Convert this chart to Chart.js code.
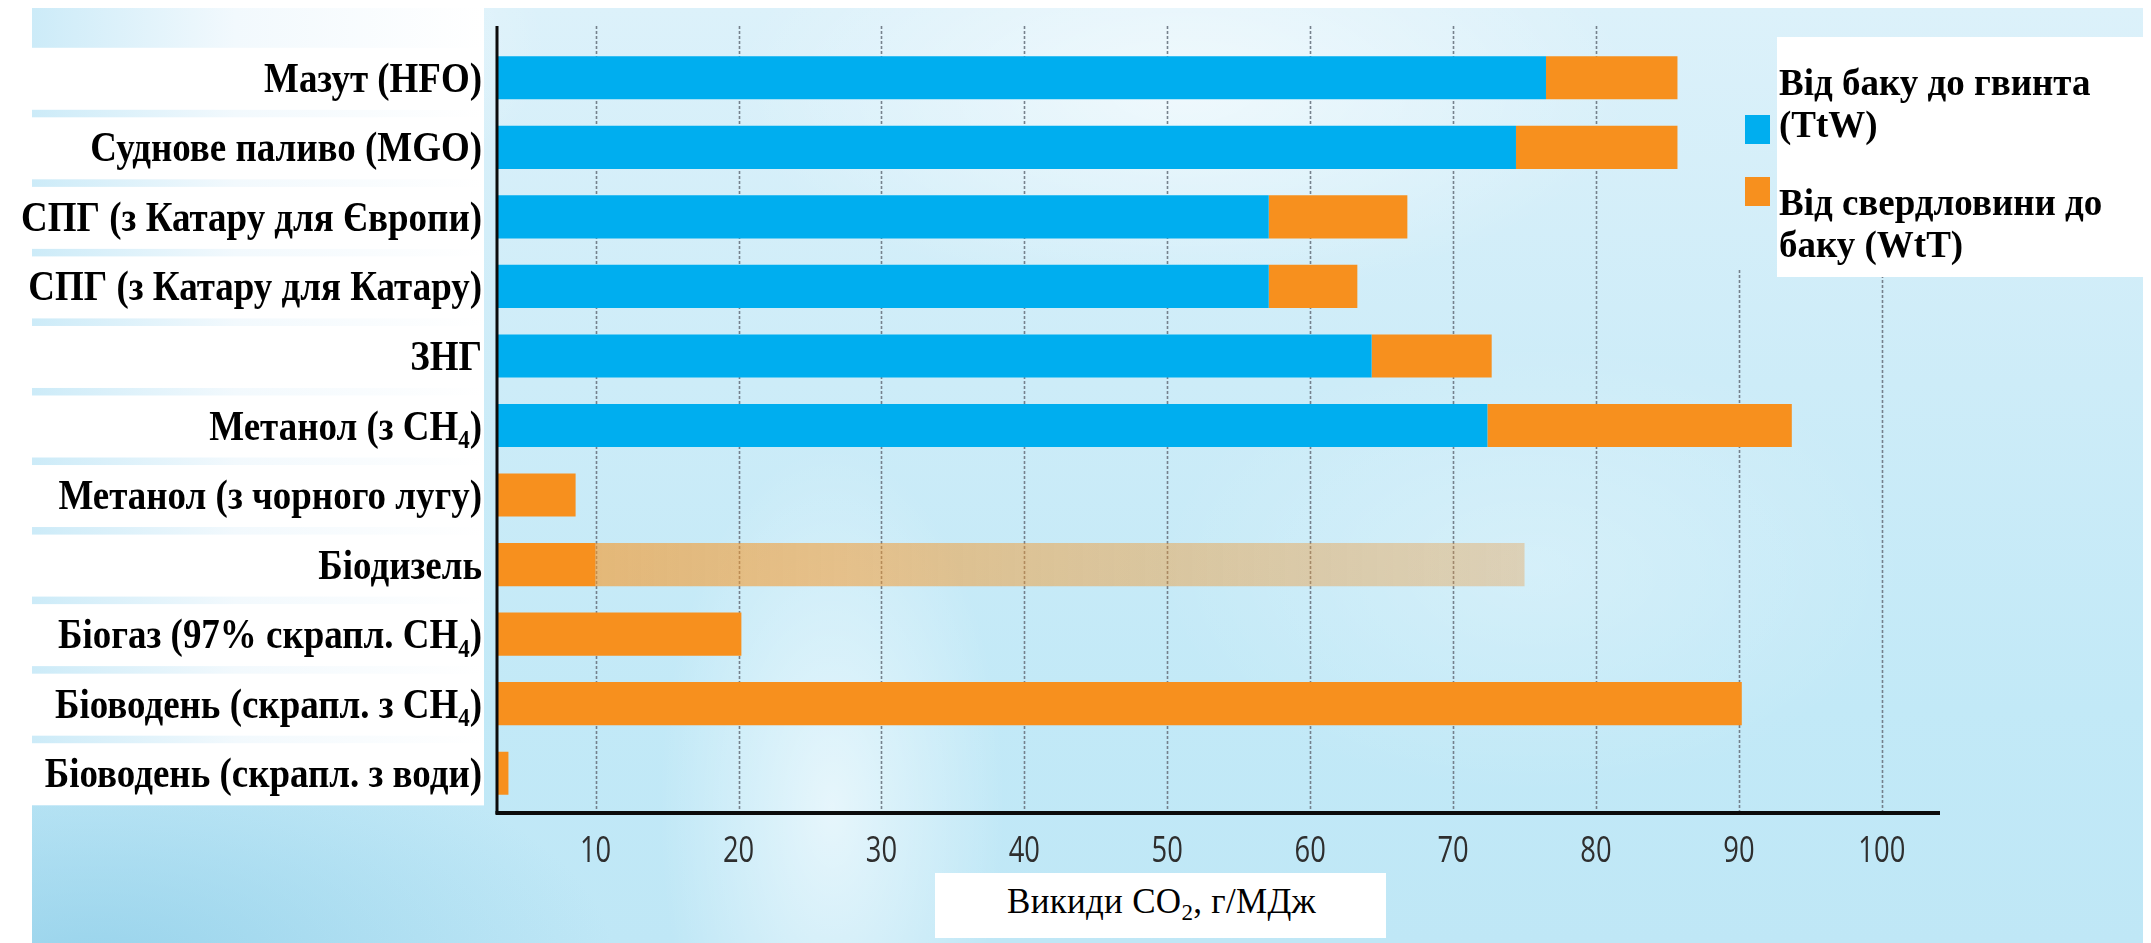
<!DOCTYPE html>
<html lang="uk">
<head>
<meta charset="utf-8">
<title>Викиди CO₂ суднових палив</title>
<script src="https://cdn.jsdelivr.net/npm/chart.js@4.4.1/dist/chart.umd.min.js"></script>
<style>
  html, body { margin: 0; padding: 0; background: #ffffff; }
  body { width: 2151px; height: 943px; position: relative; overflow: hidden; }
  #sky {
    position: absolute; left: 32px; top: 8px; width: 2111px; height: 935px;
    background:
      radial-gradient(ellipse 240px 500px at 800px 800px, rgba(255,255,255,0.6), rgba(255,255,255,0) 72%),
      radial-gradient(ellipse 600px 280px at 1150px 80px, rgba(255,255,255,0.6), rgba(255,255,255,0) 75%),
      radial-gradient(ellipse 420px 240px at 200px 40px, rgba(255,255,255,0.7), rgba(255,255,255,0) 75%),
      radial-gradient(ellipse 700px 320px at 60px 960px, rgba(140,205,232,0.75), rgba(140,205,232,0) 75%),
      radial-gradient(ellipse 500px 300px at 1500px 560px, rgba(255,255,255,0.25), rgba(255,255,255,0) 75%),
      linear-gradient(180deg, #dcf1fa 0%, #cdecf8 40%, #c2e9f7 75%, #bfe7f6 100%);
  }
  #chart { position: absolute; left: 0; top: 0; }
  .legend-box { position: absolute; background: #ffffff; }
  .legend-swatch { position: absolute; width: 25px; height: 29px; }
  .legend-text {
    position: absolute; font: bold 37px "Liberation Serif", "Times New Roman", serif;
    line-height: 42px; color: #000; white-space: nowrap;
  }
  #xTitle {
    position: absolute; left: 935px; top: 873px; width: 451px; height: 65px;
    background: #ffffff; box-sizing: border-box; padding-left: 72px;
    font: 35px "Liberation Serif", "Times New Roman", serif; line-height: 58px;
    color: #000; white-space: nowrap; letter-spacing: 0.3px;
  }
  #xTitle sub { font-size: 23px; line-height: 0; vertical-align: -7px; }
</style>
</head>
<body>
<div id="sky"></div>
<canvas id="chart" width="2151" height="943"></canvas>
<div id="legend"></div>
<div id="xTitle">Викиди CO<sub>2</sub>, г/МДж</div>

<script>
// Fuel pathways, top to bottom
const categories = [
  "Мазут (HFO)",
  "Суднове паливо (MGO)",
  "СПГ (з Катару для Європи)",
  "СПГ (з Катару для Катару)",
  "ЗНГ",
  "Метанол (з CH₄)",
  "Метанол (з чорного лугу)",
  "Біодизель",
  "Біогаз (97% скрапл. CH₄)",
  "Біоводень (скрапл. з CH₄)",
  "Біоводень (скрапл. з води)"
];

// CO2 emissions, g/MJ
const tankToWake = [76.5, 74.4, 57.1, 57.1, 64.3, 72.4, 0, 0, 0, 0, 0];
const wellToTank = [9.2, 11.3, 9.7, 6.2, 8.4, 21.3, 8.6, 10.0, 20.2, 90.2, 3.9];

// Biodiesel well-to-tank spread (low, high)
const biodieselRange = [10, 75];
const biodieselIndex = 7;

const seriesNames = [
  ["Від баку до гвинта", "(TtW)"],
  ["Від свердловини до", "баку (WtT)"]
];
const seriesColors = ["#00aeef", "#f7901e"];

const xTickValues = [10, 20, 30, 40, 50, 60, 70, 80, 90, 100];
const xMin = 3.1;
const xMax = 104;

const SUBSCRIPTS = { "₀":"0","₁":"1","₂":"2","₃":"3","₄":"4","₅":"5","₆":"6","₇":"7","₈":"8","₉":"9" };

// Right-aligned, slightly narrowed text with subscript digits
function drawRichRight(ctx, text, xRight, y, size, sx) {
  const font = `bold ${size}px "Liberation Serif", "Times New Roman", serif`;
  const subFont = `bold ${Math.round(size * 0.62)}px "Liberation Serif", "Times New Roman", serif`;
  const segs = [];
  for (const ch of text) {
    const isSub = ch in SUBSCRIPTS;
    const t = isSub ? SUBSCRIPTS[ch] : ch;
    const last = segs[segs.length - 1];
    if (last && last.sub === isSub) last.t += t; else segs.push({ sub: isSub, t });
  }
  let total = 0;
  for (const s of segs) {
    ctx.font = s.sub ? subFont : font;
    s.w = ctx.measureText(s.t).width;
    total += s.w;
  }
  ctx.save();
  ctx.translate(xRight, y);
  ctx.scale(sx, 1);
  let x = -total;
  ctx.textAlign = "left";
  ctx.textBaseline = "alphabetic";
  for (const s of segs) {
    ctx.font = s.sub ? subFont : font;
    ctx.fillText(s.t, x, s.sub ? size * 0.2 : 0);
    x += s.w;
  }
  ctx.restore();
}

// Label panels, dotted grid, axis lines and tick labels
const decor = {
  id: "decor",
  beforeDatasetsDraw(chart) {
    const { ctx } = chart;
    const xs = chart.scales.x, ys = chart.scales.y;
    ctx.save();

    // label column panels
    const panelL = 32, panelR = 484;
    const lastY = ys.getPixelForValue(categories.length - 1);
    const g = ctx.createLinearGradient(panelL, 0, panelR, 0);
    g.addColorStop(0, "rgb(204,235,248)");
    g.addColorStop(0.45, "rgb(242,249,253)");
    g.addColorStop(1, "rgb(255,255,255)");
    ctx.fillStyle = g;
    ctx.fillRect(panelL, 8, panelR - panelL, lastY + 32 - 8);
    ctx.fillStyle = "#ffffff";
    categories.forEach((c, i) => {
      const cy = ys.getPixelForValue(i);
      ctx.fillRect(panelL, cy - 30, panelR - panelL, 62);
    });

    // dotted vertical grid
    ctx.strokeStyle = "rgba(112,122,134,0.95)";
    ctx.lineWidth = 1.6;
    ctx.setLineDash([3, 2]);
    const gridBottom = chart.chartArea.bottom + 4;
    for (const v of xTickValues) {
      const px = Math.round(xs.getPixelForValue(v)) + 0.5;
      const top = v >= 90 ? 270 : 26;
      ctx.beginPath();
      ctx.moveTo(px, top);
      ctx.lineTo(px, gridBottom);
      ctx.stroke();
    }
    ctx.restore();
  },
  afterDraw(chart) {
    const { ctx, chartArea } = chart;
    const xs = chart.scales.x, ys = chart.scales.y;
    ctx.save();

    // axis lines
    ctx.strokeStyle = "#0b0b0b";
    ctx.lineWidth = 3;
    ctx.beginPath();
    ctx.moveTo(chartArea.left, 26);
    ctx.lineTo(chartArea.left, chartArea.bottom + 6);
    ctx.stroke();
    ctx.lineWidth = 4;
    ctx.beginPath();
    ctx.moveTo(chartArea.left - 1.5, chartArea.bottom + 5);
    ctx.lineTo(chartArea.right + 1, chartArea.bottom + 5);
    ctx.stroke();

    // category labels
    ctx.fillStyle = "#000000";
    categories.forEach((c, i) => {
      drawRichRight(ctx, c, 482, ys.getPixelForValue(i) + 14, 42, 0.88);
    });

    // value tick labels
    ctx.fillStyle = "#2e2e2e";
    ctx.font = '36px "Open Sans", "DejaVu Sans", sans-serif';
    ctx.textAlign = "center";
    ctx.textBaseline = "alphabetic";
    for (const v of xTickValues) {
      ctx.save();
      ctx.translate(xs.getPixelForValue(v), 862);
      ctx.scale(0.76, 1);
      ctx.fillText(String(v), 0, 0);
      ctx.restore();
    }
    ctx.restore();
  }
};

function rangeFill(context) {
  const chart = context.chart;
  if (!chart.chartArea) return "rgba(247,148,29,0.5)";
  const xs = chart.scales.x;
  const x0 = xs.getPixelForValue(biodieselRange[0]);
  const x1 = xs.getPixelForValue(biodieselRange[1]);
  const g = chart.ctx.createLinearGradient(x0, 0, x1, 0);
  g.addColorStop(0, "rgba(248,150,35,0.6)");
  g.addColorStop(0.5, "rgba(244,150,40,0.46)");
  g.addColorStop(1, "rgba(236,150,55,0.34)");
  return g;
}

function buildLegend() {
  const host = document.getElementById("legend");
  const box = document.createElement("div");
  box.className = "legend-box";
  Object.assign(box.style, { left: "1777px", top: "37px", width: "366px", height: "240px" });
  host.appendChild(box);
  const textTops = [62, 182];
  const swatchTops = [115, 177];
  seriesNames.forEach((lines, i) => {
    const sw = document.createElement("div");
    sw.className = "legend-swatch";
    sw.style.background = seriesColors[i];
    sw.style.left = "1745px";
    sw.style.top = swatchTops[i] + "px";
    host.appendChild(sw);
    const t = document.createElement("div");
    t.className = "legend-text";
    t.style.left = "1779px";
    t.style.top = textTops[i] + "px";
    t.innerHTML = lines.join("<br>");
    host.appendChild(t);
  });
}

function makeChart() {
  buildLegend();
  const rangeData = categories.map((c, i) => (i === biodieselIndex ? biodieselRange : null));
  new Chart(document.getElementById("chart"), {
    type: "bar",
    data: {
      labels: categories,
      datasets: [
        { label: seriesNames[0].join(" "), data: tankToWake, backgroundColor: seriesColors[0], stack: "fuel" },
        { label: seriesNames[1].join(" "), data: wellToTank, backgroundColor: seriesColors[1], stack: "fuel" },
        { label: "Біодизель (діапазон WtT)", data: rangeData, backgroundColor: rangeFill, stack: "range", grouped: false }
      ]
    },
    options: {
      indexAxis: "y",
      responsive: false,
      animation: false,
      events: [],
      layout: { padding: { left: 497, right: 212, top: 43, bottom: 135 } },
      datasets: { bar: { barPercentage: 0.62, categoryPercentage: 1, borderWidth: 0 } },
      scales: {
        x: {
          type: "linear", min: xMin, max: xMax, stacked: true, display: false,
          afterBuildTicks(scale) { scale.ticks = xTickValues.map(v => ({ value: v })); }
        },
        y: { type: "category", stacked: true, display: false, offset: true }
      },
      plugins: { legend: { display: false }, tooltip: { enabled: false } }
    },
    plugins: [decor]
  });
}

Promise.all([
  document.fonts.load('bold 42px "Liberation Serif"'),
  document.fonts.load('35px "Liberation Serif"'),
  document.fonts.load('36px "Open Sans"')
]).then(makeChart, makeChart);
</script>
</body>
</html>
